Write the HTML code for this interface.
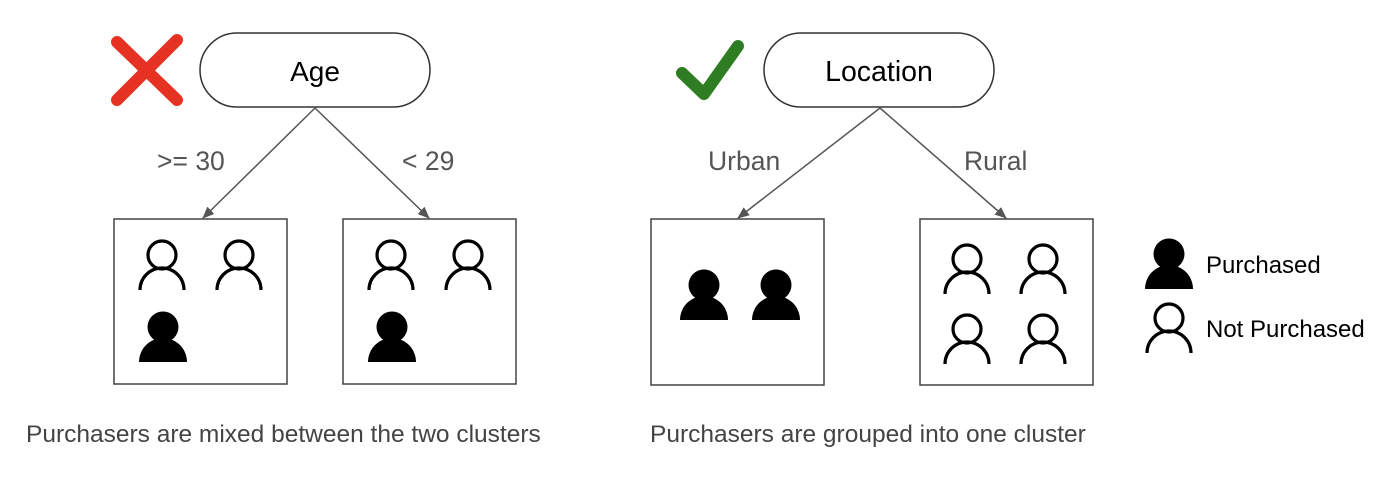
<!DOCTYPE html>
<html><head><style>
html,body{margin:0;padding:0;background:#fff;}
svg{display:block;}
</style></head><body>
<svg width="1400" height="492" viewBox="0 0 1400 492" xmlns="http://www.w3.org/2000/svg">
<defs>
<marker id="ah" markerWidth="12" markerHeight="10" refX="11" refY="5" orient="auto" markerUnits="userSpaceOnUse">
<path d="M0,0 L12,5 L0,10 Z" fill="#555"/>
</marker>
<g id="po" fill="none" stroke="#000" stroke-width="3.2">
<circle cx="0" cy="0" r="14"/>
<path d="M-22,35 A22,22 0 0 1 22,35"/>
</g>
<g id="pf" fill="#000">
<circle cx="0" cy="0" r="15.5"/>
<path d="M-24,35 A24,24 0 0 1 24,35 Z"/>
</g>
</defs>
<g font-family="Liberation Sans, sans-serif">
<path d="M117,42 L177,100 M177,40 L117,100" stroke="#e53222" stroke-width="12" stroke-linecap="round"/>
<rect x="200" y="33" width="230" height="74" rx="37" fill="#fff" stroke="#333" stroke-width="1.5"/>
<text x="315" y="81" font-size="28" text-anchor="middle" fill="#000">Age</text>
<line x1="315" y1="108" x2="203" y2="218" stroke="#555" stroke-width="1.5" marker-end="url(#ah)"/>
<line x1="315" y1="108" x2="429" y2="218" stroke="#555" stroke-width="1.5" marker-end="url(#ah)"/>
<text x="157" y="170" font-size="26.5" fill="#555">&gt;= 30</text>
<text x="402" y="170" font-size="26.5" fill="#555">&lt; 29</text>
<rect x="114" y="219" width="173" height="165" fill="#fff" stroke="#444" stroke-width="1.5"/>
<rect x="343" y="219" width="173" height="165" fill="#fff" stroke="#444" stroke-width="1.5"/>
<use href="#po" x="162" y="255"/>
<use href="#po" x="239" y="255"/>
<use href="#pf" x="163" y="327"/>
<use href="#po" x="391" y="255"/>
<use href="#po" x="468" y="255"/>
<use href="#pf" x="392" y="327"/>
<text x="26" y="442" font-size="24.5" fill="#444">Purchasers are mixed between the two clusters</text>

<path d="M682,73 L704,94 L738,46" fill="none" stroke="#2e7d23" stroke-width="12" stroke-linecap="round" stroke-linejoin="round"/>
<rect x="764" y="33" width="230" height="74" rx="37" fill="#fff" stroke="#333" stroke-width="1.5"/>
<text x="879" y="81" font-size="28.5" text-anchor="middle" fill="#000">Location</text>
<line x1="880" y1="108" x2="738" y2="218" stroke="#555" stroke-width="1.5" marker-end="url(#ah)"/>
<line x1="880" y1="108" x2="1006" y2="218" stroke="#555" stroke-width="1.5" marker-end="url(#ah)"/>
<text x="708" y="170" font-size="26.5" fill="#555">Urban</text>
<text x="964" y="170" font-size="26.5" fill="#555">Rural</text>
<rect x="651" y="219" width="173" height="166" fill="#fff" stroke="#444" stroke-width="1.5"/>
<rect x="920" y="219" width="173" height="166" fill="#fff" stroke="#444" stroke-width="1.5"/>
<use href="#pf" x="704" y="285"/>
<use href="#pf" x="776" y="285"/>
<use href="#po" x="967" y="259"/>
<use href="#po" x="1043" y="259"/>
<use href="#po" x="967" y="329"/>
<use href="#po" x="1043" y="329"/>
<text x="650" y="442" font-size="24.5" fill="#444">Purchasers are grouped into one cluster</text>

<use href="#pf" x="1169" y="254"/>
<use href="#po" x="1169" y="318"/>
<text x="1206" y="273" font-size="24" fill="#000">Purchased</text>
<text x="1206" y="337" font-size="24" fill="#000">Not Purchased</text>
</g>
</svg>
</body></html>
